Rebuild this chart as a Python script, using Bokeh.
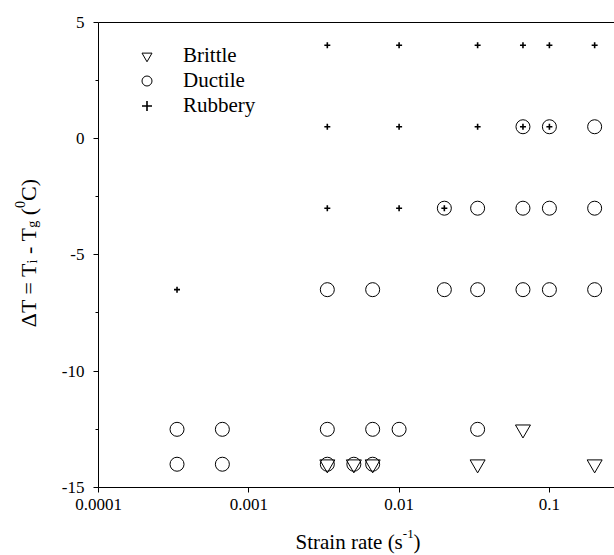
from math import pi
from bokeh.plotting import figure
from bokeh.models import (Range1d, FixedTicker, Label, Legend, LegendItem,
                          LogAxis)
from bokeh.embed import file_html
from bokeh.resources import INLINE

# ---- data ----
brittle_x = [0.0667, 0.00333, 0.005, 0.00667, 0.0333, 0.2]
brittle_y = [-12.5, -14, -14, -14, -14, -14]

ductile_x = [0.0667, 0.1, 0.2,
             0.02, 0.0333, 0.0667, 0.1, 0.2,
             0.00333, 0.00667, 0.02, 0.0333, 0.0667, 0.1, 0.2,
             0.000333, 0.000667, 0.00333, 0.00667, 0.01, 0.0333,
             0.000333, 0.000667, 0.00333, 0.005, 0.00667]
ductile_y = [0.5, 0.5, 0.5,
             -3, -3, -3, -3, -3,
             -6.5, -6.5, -6.5, -6.5, -6.5, -6.5, -6.5,
             -12.5, -12.5, -12.5, -12.5, -12.5, -12.5,
             -14, -14, -14, -14, -14]

rubbery_x = [0.00333, 0.01, 0.0333, 0.0667, 0.1, 0.2,
             0.00333, 0.01, 0.0333, 0.0667, 0.1,
             0.00333, 0.01, 0.02,
             0.000333]
rubbery_y = [4, 4, 4, 4, 4, 4,
             0.5, 0.5, 0.5, 0.5, 0.5,
             -3, -3, -3,
             -6.5]

x_tick_vals = [0.0001, 0.001, 0.01, 0.1]
x_tick_labels = ["0.0001", "0.001", "0.01", "0.1"]
y_tick_vals = [-15, -10, -5, 0, 5]
y_tick_labels = ["-15", "-10", "-5", "0", "5"]
y_minor_vals = [-12.5, -7.5, -2.5, 2.5]

x_axis_min, x_axis_max = 0.0001, 0.271
y_axis_min, y_axis_max = -15, 5

FONT = "Liberation Serif"
W, H = 614, 555

# plot area of the reference: x 98..614 px, y 21.5..487 px
px_per_decade = 150.3
px_per_unit = 23.275
x_lo = 10 ** (-4 - 98 / px_per_decade)
x_hi = 10 ** (-4 + (W - 98) / px_per_decade)
y_hi = y_axis_max + 21.5 / px_per_unit
y_lo = y_axis_min - (H - 487) / px_per_unit

p = figure(width=W, height=H, x_axis_type="log",
           x_range=Range1d(x_lo, x_hi), y_range=Range1d(y_lo, y_hi),
           output_backend="svg", toolbar_location=None)
p.min_border = 0
p.background_fill_color = "white"
p.border_fill_color = "white"
p.outline_line_color = None
p.grid.visible = False

# axes placed at the corner of the data area
xa = p.xaxis[0]
ya = p.yaxis[0]
xa.fixed_location = y_axis_min
ya.fixed_location = x_axis_min
xa.bounds = (x_axis_min, x_hi)
ya.bounds = (y_axis_min, y_axis_max)
xa.ticker = FixedTicker(ticks=x_tick_vals)
xa.major_label_overrides = {v: l for v, l in zip(x_tick_vals, x_tick_labels)}
ya.ticker = FixedTicker(ticks=y_tick_vals, minor_ticks=y_minor_vals)
ya.major_label_overrides = {v: l for v, l in zip(y_tick_vals, y_tick_labels)}
for ax in (xa, ya):
    ax.axis_line_color = "black"
    ax.major_tick_line_color = "black"
    ax.major_tick_in = 0
    ax.major_tick_out = 5
    ax.major_label_text_font = FONT
    ax.major_label_text_font_size = "17px"
    ax.major_label_text_color = "black"
xa.minor_tick_line_color = None
ya.minor_tick_line_color = "black"
ya.minor_tick_in = 0
ya.minor_tick_out = 3
xa.major_label_standoff = 6
ya.major_label_standoff = 9

# top border of the data area
top = LogAxis(fixed_location=y_axis_max, bounds=(x_axis_min, x_hi),
              ticker=FixedTicker(ticks=[]), axis_line_color="black",
              major_tick_line_color=None, minor_tick_line_color=None,
              major_label_text_alpha=0)
p.add_layout(top, "above")

# data marks
rd = p.scatter(ductile_x, ductile_y, marker="circle", size=14,
               fill_alpha=0, line_color="black", line_width=1)
rb = p.scatter(brittle_x, brittle_y, marker="inverted_triangle", size=15,
               fill_alpha=0, line_color="black", line_width=1)
rr = p.scatter(rubbery_x, rubbery_y, marker="cross", size=6,
               line_color="black", line_width=1.6)

legend = Legend(items=[LegendItem(label="Brittle", renderers=[rb]),
                       LegendItem(label="Ductile", renderers=[rd]),
                       LegendItem(label="Rubbery", renderers=[rr])],
                location=(134, 437), glyph_width=25, glyph_height=25,
                label_height=25, spacing=0, padding=0, margin=0,
                label_standoff=24, border_line_color=None,
                background_fill_alpha=0,
                label_text_font=FONT, label_text_font_size="21px",
                label_text_color="black")
p.add_layout(legend)

# axis titles (built from pieces for sub/superscripts); screen units from bottom-left
def lab(x, y, text, size, angle=0.0):
    p.add_layout(Label(x=x, y=y, x_units="screen", y_units="screen",
                       text=text, text_font=FONT, text_font_size=size,
                       text_color="black", angle=angle,
                       text_align="left", text_baseline="alphabetic"))

# x title: "Strain rate (s^-1)"
xb, yb = 295, 14
lab(xb, yb, "Strain rate (s", "21px")
lab(xb + 107.3, yb + 8, "-1", "13px")
lab(xb + 118.1, yb, ")", "21px")

# y title: "ΔT = T_i - T_g (^0C)" rotated (no leading spaces in pieces)
bx, by = 28, 228.3
a = pi / 2
lab(bx, by, "\u0394T = T", "22px", a)
lab(bx + 4, by + 63.8, "i", "14px", a)
lab(bx, by + 73.2, "- T", "22px", a)
lab(bx + 4, by + 99.5, "g", "14px", a)
lab(bx, by + 112.0, "(", "22px", a)
lab(bx - 9, by + 119.3, "0", "14px", a)
lab(bx, by + 126.3, "C)", "22px", a)

open("out.html", "w").write(file_html(p, INLINE))
